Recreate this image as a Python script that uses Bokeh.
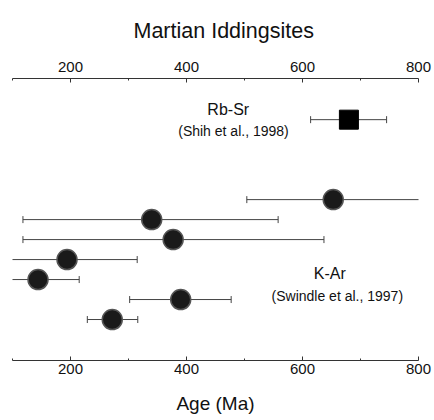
from bokeh.plotting import figure
from bokeh.models import Range1d, LinearAxis, FixedTicker
from bokeh.embed import file_html
from bokeh.resources import INLINE
from bokeh.core.properties import value
import math

chart_title = "Martian Iddingsites"
x_label = "Age (Ma)"
tick_values = [200, 400, 600, 800]
minor_tick_values = [100, 300, 500, 700]

# Rb-Sr (Shih et al., 1998)
rbsr_age = [680]
rbsr_low = [614]
rbsr_high = [745]

# K-Ar (Swindle et al., 1997)
kar_age = [653, 340, 377, 194, 144, 390, 272]
kar_low = [504, 118, 118, 90, 90, 302, 229]
kar_high = [820, 558, 637, 315, 215, 477, 316]

FONT = "Liberation Sans"
INK = "#111111"

kar_rows = [i + 1 for i in range(len(kar_age))]
rbsr_rows = [-3 for _ in rbsr_age]

p = figure(width=433, height=416,
           x_range=Range1d(100, 800), y_range=Range1d(9.05, -5.06),
           x_axis_location="above", y_axis_location=None,
           output_backend="svg", toolbar_location=None,
           min_border_left=12, min_border_right=15,
           min_border_top=73, min_border_bottom=55)
p.grid.grid_line_color = None
p.outline_line_color = None
p.background_fill_color = "white"
p.border_fill_color = "white"

p.title.text = chart_title
p.title.align = "left"
p.title.text_font = FONT
p.title.text_font_size = "21.5px"
p.title.text_font_style = "normal"
p.title.text_color = INK
p.title.offset = 121
p.title.standoff = 32

bottom = LinearAxis(axis_label=x_label)
p.add_layout(bottom, "below")

for ax in p.xaxis:
    ax.ticker = FixedTicker(ticks=tick_values, minor_ticks=minor_tick_values)
    ax.major_tick_in = 4
    ax.major_tick_out = 0
    ax.minor_tick_in = 2
    ax.minor_tick_out = 0
    ax.axis_line_color = "#333333"
    ax.axis_line_width = 1.2
    ax.major_tick_line_color = "#333333"
    ax.minor_tick_line_color = "#333333"
    ax.major_label_text_font = FONT
    ax.major_label_text_font_size = "15px"
    ax.major_label_text_color = INK
    ax.axis_label_text_font = FONT
    ax.axis_label_text_font_size = "19px"
    ax.axis_label_text_font_style = "normal"
    ax.axis_label_text_color = INK

p.xaxis[0].major_label_standoff = 7
bottom.major_label_standoff = 3
bottom.axis_label_standoff = 16

# error bars
p.segment(x0=rbsr_low, x1=rbsr_high, y0=rbsr_rows, y1=rbsr_rows, line_color="#444444", line_width=1)
p.segment(x0=kar_low, x1=kar_high, y0=kar_rows, y1=kar_rows, line_color="#444444", line_width=1)
cap_x = rbsr_low + rbsr_high + kar_low + kar_high
cap_y = rbsr_rows + rbsr_rows + kar_rows + kar_rows
p.scatter(x=cap_x, y=cap_y, marker="dash", angle=math.pi / 2, size=7,
          line_color="#444444", line_width=1)

# points
p.scatter(x=kar_age, y=kar_rows, marker="circle", size=20,
          fill_color="#1a1a1a", line_color="#555555", line_width=1.5)
p.scatter(x=rbsr_age, y=rbsr_rows, marker="square", size=19,
          fill_color="#000000", line_color="#000000")

# annotations
p.text(x=[472], y=[-3.5], text=["Rb-Sr"], text_font=value(FONT), text_font_size="16px",
       text_align="center", text_baseline="middle", text_color=INK)
p.text(x=[481], y=[-2.45], text=["(Shih et al., 1998)"], text_font=value(FONT), text_font_size="14px",
       text_align="center", text_baseline="middle", text_color=INK)
p.text(x=[647], y=[4.68], text=["K-Ar"], text_font=value(FONT), text_font_size="16px",
       text_align="center", text_baseline="middle", text_color=INK)
p.text(x=[660], y=[5.82], text=["(Swindle et al., 1997)"], text_font=value(FONT), text_font_size="14px",
       text_align="center", text_baseline="middle", text_color=INK)

open("out.html", "w").write(file_html(p, INLINE))
